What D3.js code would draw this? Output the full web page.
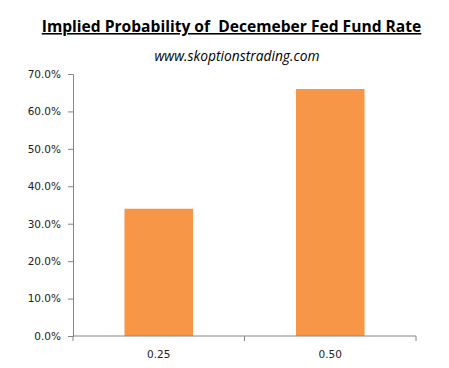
<!DOCTYPE html>
<html><head><meta charset="utf-8">
<script src="https://cdn.jsdelivr.net/npm/d3@7"></script>
<style>body{margin:0;background:#fff;}svg{display:block;}</style>
</head><body>
<script>
const categories = ["0.25", "0.50"];
const values = [0.34, 0.66];
const yTicks = [0, 0.1, 0.2, 0.3, 0.4, 0.5, 0.6, 0.7];
const title = "Implied Probability of  Decemeber Fed Fund Rate";
const subtitle = "www.skoptionstrading.com";

const W = 449, H = 368;
const m = {left: 73, right: 33, top: 74, bottom: 32};
const svg = d3.select("body").append("svg").attr("width", W).attr("height", H);

const x = d3.scaleBand().domain(categories).range([m.left, W - m.right]).paddingInner(0.6).paddingOuter(0.3);
const y = d3.scaleLinear().domain([0, 0.7]).range([H - m.bottom, m.top]);

// title
svg.append("text").attr("x", 231.5).attr("y", 32).attr("text-anchor", "middle")
  .attr("font-family", "Open Sans, sans-serif").attr("font-weight", "bold").attr("font-size", 15.6)
  .attr("fill", "#000").attr("text-decoration", "underline").style("white-space", "pre").text(title);

svg.append("text").attr("x", 237).attr("y", 61).attr("text-anchor", "middle")
  .attr("font-family", "Open Sans, sans-serif").attr("font-style", "italic").attr("font-size", 13.8)
  .attr("fill", "#000").text(subtitle);

// bars
svg.selectAll("rect.bar").data(values).join("rect").attr("class", "bar")
  .attr("x", (d, i) => x(categories[i])).attr("width", x.bandwidth())
  .attr("y", d => y(d)).attr("height", d => y(0) - y(d)).attr("fill", "#F79646");

// y axis
const yAxis = d3.axisLeft(y).tickValues(yTicks).tickFormat(d3.format(".1%")).tickSize(5).tickPadding(7);
const gy = svg.append("g").attr("transform", `translate(${m.left},0)`).call(yAxis);
gy.selectAll("text").attr("font-family", "DejaVu Sans, Verdana, sans-serif").attr("font-size", 10.5).attr("fill", "#222");

// x axis
const xEdges = d3.scaleLinear().domain([0, categories.length]).range([m.left, W - m.right]);
const gx = svg.append("g").attr("transform", `translate(0,${y(0)})`);
gx.append("line").attr("x1", m.left).attr("x2", W - m.right).attr("stroke", "#868686");
gx.selectAll("line.tk").data(d3.range(categories.length + 1)).join("line").attr("class", "tk")
  .attr("x1", d => xEdges(d)).attr("x2", d => xEdges(d)).attr("y1", 0).attr("y2", 5).attr("stroke", "#868686");
gx.selectAll("text").data(categories).join("text")
  .attr("x", d => x(d) + x.bandwidth() / 2).attr("y", 22).attr("text-anchor", "middle")
  .attr("font-family", "DejaVu Sans, Verdana, sans-serif").attr("font-size", 10.5).attr("fill", "#222").text(d => d);

gy.select(".domain").attr("stroke", "#868686");
gy.selectAll(".tick line").attr("stroke", "#868686");
</script>
</body></html>
